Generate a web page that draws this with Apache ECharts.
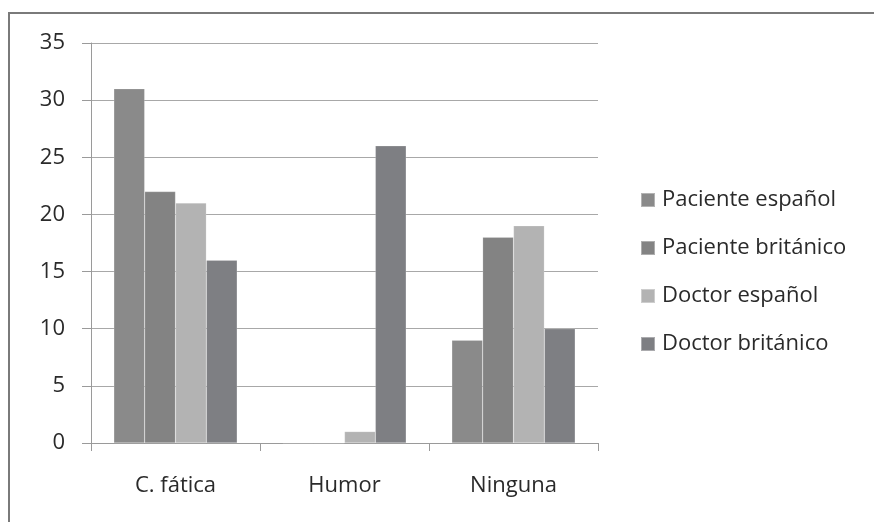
<!DOCTYPE html>
<html>
<head>
<meta charset="utf-8">
<script src="https://cdn.jsdelivr.net/npm/echarts@6/dist/echarts.min.js"></script>
<style>
  html, body { margin: 0; padding: 0; background: #fff; }
  #chart { width: 874px; height: 522px; }
</style>
</head>
<body>
<div id="chart"></div>
<script>
// Categories and counts per speaker group
const categories = ['C. fática', 'Humor', 'Ninguna'];
const seriesNames = ['Paciente español', 'Paciente británico', 'Doctor español', 'Doctor británico'];
const pacienteEspanol = [31, 0, 9];
const pacienteBritanico = [22, 0, 18];
const doctorEspanol = [21, 1, 19];
const doctorBritanico = [16, 26, 10];
const yTicks = [0, 5, 10, 15, 20, 25, 30, 35];

const colors = ['#8a8a8a', '#838383', '#b3b3b3', '#7e7f83'];
const values = [pacienteEspanol, pacienteBritanico, doctorEspanol, doctorBritanico];
const fontFamily = '"Open Sans", "Noto Sans", sans-serif';
const textColor = '#2a2a2a';

const chart = echarts.init(document.getElementById('chart'), null, { renderer: 'canvas' });

chart.setOption({
  animation: false,
  backgroundColor: '#ffffff',
  color: colors,
  graphic: [
    {
      type: 'rect',
      shape: { x: 9, y: 13, width: 880, height: 530 },
      style: { fill: 'none', stroke: '#7a7a7a', lineWidth: 2 },
      z: 10
    }
  ],
  grid: { left: 91, right: 276, top: 43, bottom: 79, containLabel: false },
  legend: {
    orient: 'vertical',
    left: 640,
    top: 188,
    padding: 0,
    itemWidth: 14,
    itemHeight: 14,
    itemGap: 24,
    icon: 'rect',
    data: seriesNames,
    textStyle: { fontFamily: fontFamily, fontSize: 22, color: textColor, lineHeight: 24, padding: [0, 0, 0, 2] }
  },
  xAxis: {
    type: 'category',
    data: categories,
    axisLine: { lineStyle: { color: '#9a9a9a', width: 1 } },
    axisTick: { show: true, length: 8, lineStyle: { color: '#9a9a9a' } },
    axisLabel: { fontFamily: fontFamily, fontSize: 22, color: textColor, margin: 32 }
  },
  yAxis: {
    type: 'value',
    min: yTicks[0],
    max: yTicks[yTicks.length - 1],
    interval: 5,
    axisLine: { show: true, lineStyle: { color: '#9a9a9a', width: 1 } },
    axisTick: { show: true, length: 9, inside: false, lineStyle: { color: '#9a9a9a' } },
    splitLine: { lineStyle: { color: '#a8a8a8', width: 1 } },
    axisLabel: { fontFamily: fontFamily, fontSize: 22, color: textColor, margin: 26 }
  },
  series: seriesNames.map((name, i) => ({
    name: name,
    type: 'bar',
    data: values[i],
    barGap: '0%',
    barCategoryGap: '27%',
    itemStyle: { color: colors[i], borderColor: 'rgba(255,255,255,0.35)', borderWidth: 0.5 }
  }))
});
</script>
</body>
</html>
